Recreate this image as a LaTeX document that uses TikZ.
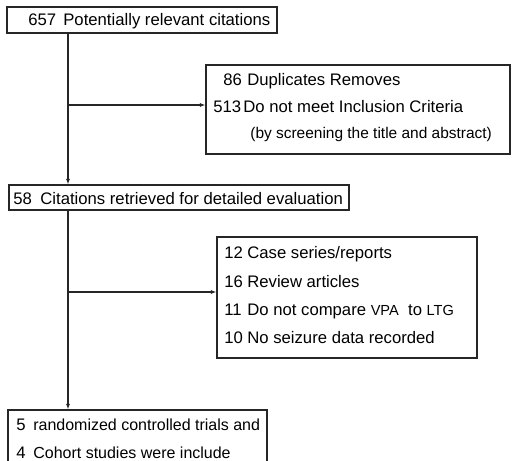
\documentclass[tikz,border=0pt]{standalone}
\usepackage{fontspec}
\setmainfont{Liberation Sans}
\usetikzlibrary{arrows.meta}

\begin{document}
\begin{tikzpicture}[every node/.style={font=\fontsize{9.5}{11}\selectfont,inner sep=0pt},
  box/.style={draw=black!85,line width=0.6pt,minimum width=#1},
  ln/.style={anchor=base west},
  arr/.style={draw=black!85,line width=0.6pt,-{Latex[length=1.1mm,width=0.8mm]}}]
\clip (0,0) rectangle (10.24,9.22);
% boxes
\node[box=5.40cm,minimum height=0.52cm] (cit) at (2.84,8.82) {};
\node[box=6.08cm,minimum height=1.78cm] (dup) at (7.16,7.03) {};
\node[box=6.80cm,minimum height=0.50cm] (ret) at (3.58,5.27) {};
\node[box=5.20cm,minimum height=2.42cm] (exc) at (6.94,3.27) {};
\node[box=5.18cm,minimum height=1.50cm] (inc) at (2.75,0.27) {};
% texts (baselines)
\node[ln] (n657) at (0.56,8.70) {657}; \node[ln] (t657) at (1.26,8.70) {Potentially relevant citations};
\node[ln] (n86) at (4.46,7.50) {86}; \node[ln] (t86) at (4.94,7.50) {Duplicates Removes};
\node[ln] (n513) at (4.26,6.96) {513}; \node[ln] (t513) at (4.86,6.96) {Do not meet Inclusion Criteria};
\node[ln,font=\fontsize{8.8}{10}\selectfont] (tscr) at (5.00,6.45) {(by screening the title and abstract)};
\node[ln] (n58) at (0.26,5.12) {58}; \node[ln] (t58) at (0.80,5.12) {Citations retrieved for detailed evaluation};
\node[ln] (n12) at (4.48,4.04) {12}; \node[ln] (t12) at (4.94,4.04) {Case series/reports};
\node[ln] (n16) at (4.48,3.46) {16}; \node[ln] (t16) at (4.94,3.46) {Review articles};
\node[ln] (n11) at (4.48,2.90) {11}; \node[ln] (t11) at (4.94,2.90) {Do not compare {\fontsize{8.3}{9}\selectfont VPA}\ \ to {\fontsize{8.3}{9}\selectfont LTG}};
\node[ln] (n10) at (4.48,2.34) {10}; \node[ln] (t10) at (4.94,2.34) {No seizure data recorded};
\node[ln] (n5) at (0.32,0.60) {5}; \node[ln,font=\fontsize{9.1}{11}\selectfont] (t5) at (0.66,0.60) {randomized controlled trials and};
\node[ln] (n4) at (0.32,0.04) {4}; \node[ln,font=\fontsize{9.1}{11}\selectfont] (t4) at (0.66,0.04) {Cohort studies were include};
% connectors
\coordinate (j1) at (1.36,7.12);
\coordinate (j2) at (1.36,3.38);
\draw[arr] (cit.south -| j1) -- (ret.north -| j1);
\draw[arr] (j1) -- (dup.west |- j1);
\draw[arr] (ret.south -| j2) -- (inc.north -| j2);
\draw[arr] (j2) -- (exc.west |- j2);
\end{tikzpicture}
\end{document}
